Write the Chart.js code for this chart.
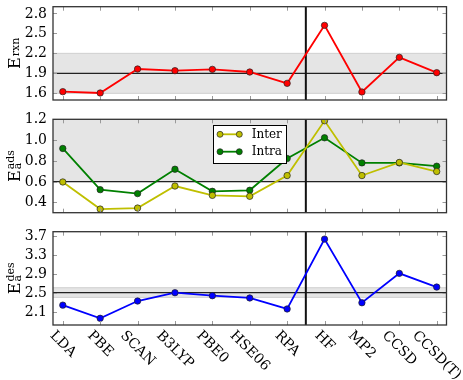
<!DOCTYPE html>
<html><head><meta charset="utf-8">
<script src="https://cdn.jsdelivr.net/npm/chart.js@4/dist/chart.umd.min.js"></script>
<style>
html,body{margin:0;padding:0;background:#fff;}
#wrap{position:relative;width:463px;height:380px;overflow:hidden;background:#fff;}
canvas{position:absolute;left:0;}
</style></head><body>
<div id="wrap">
<canvas id="c1" width="463" height="110" style="top:0px;width:463px;height:110px"></canvas>
<canvas id="c2" width="463" height="112" style="top:110px;width:463px;height:112px"></canvas>
<canvas id="c3" width="463" height="158" style="top:222px;width:463px;height:158px"></canvas>
</div>
<script>
// ---- data ----
const categories = ['LDA','PBE','SCAN','B3LYP','PBE0','HSE06','RPA','HF','MP2','CCSD','CCSD(T)'];
const erxn  = [1.625, 1.605, 1.965, 1.94, 1.96, 1.92, 1.75, 2.62, 1.62, 2.14, 1.91];
const inter = [0.596, 0.335, 0.345, 0.557, 0.467, 0.458, 0.658, 1.186, 0.658, 0.784, 0.697];
const intra = [0.919, 0.522, 0.484, 0.719, 0.506, 0.516, 0.822, 1.022, 0.780, 0.780, 0.748];
const edes  = [2.25, 1.975, 2.336, 2.51, 2.447, 2.40, 2.17, 3.63, 2.30, 2.914, 2.628];
const ticksRxn = [1.6, 1.9, 2.2, 2.5, 2.8];
const ticksAds = [0.4, 0.6, 0.8, 1.0, 1.2];
const ticksDes = [2.1, 2.5, 2.9, 3.3, 3.7];
const bandRxn = [1.6, 2.2], refRxn = 1.9;
const bandAds = [0.6, 1.2], refAds = 0.6;
const bandDes = [2.413, 2.614], refDes = 2.51;
const splitAt = 6.5;

const FONT = '"DejaVu Serif", serif';
const toXY = arr => arr.map((v, i) => ({x: i, y: v}));

function drawYLabel(ctx, cx, cy, main, sup, sub, subShift) {
  ctx.save();
  ctx.translate(cx, cy);
  ctx.rotate(-Math.PI / 2);
  ctx.fillStyle = '#000';
  ctx.textAlign = 'left';
  ctx.textBaseline = 'alphabetic';
  ctx.font = '16px ' + FONT;
  const wE = ctx.measureText(main).width;
  ctx.font = '11px ' + FONT;
  const wS = Math.max(sup ? ctx.measureText(sup).width : 0, sub ? ctx.measureText(sub).width : 0);
  const x0 = -(wE + 1 + wS) / 2;
  ctx.font = '16px ' + FONT;
  ctx.fillText(main, x0, 0);
  ctx.font = '11px ' + FONT;
  if (sup) ctx.fillText(sup, x0 + wE + 1, -6);
  if (sub) ctx.fillText(sub, x0 + wE + 1, subShift);
  ctx.restore();
}

const panelPlugin = {
  id: 'panel',
  beforeDatasetsDraw(chart, args, o) {
    const {ctx, chartArea: ca, scales: {x, y}} = chart;
    ctx.save();
    ctx.beginPath();
    ctx.rect(ca.left, ca.top, ca.right - ca.left, ca.bottom - ca.top);
    ctx.clip();
    const b1 = y.getPixelForValue(o.band[1]), b0 = y.getPixelForValue(o.band[0]);
    ctx.fillStyle = '#e5e5e5';
    ctx.fillRect(ca.left, b1, ca.right - ca.left, b0 - b1);
    ctx.strokeStyle = '#cfcfcf';
    ctx.lineWidth = 1;
    [b0, b1].forEach(v => { ctx.beginPath(); ctx.moveTo(ca.left, v); ctx.lineTo(ca.right, v); ctx.stroke(); });
    const yh = y.getPixelForValue(o.ref);
    ctx.strokeStyle = '#222';
    ctx.lineWidth = 1.3;
    ctx.beginPath(); ctx.moveTo(ca.left, yh); ctx.lineTo(ca.right, yh); ctx.stroke();
    const xv = x.getPixelForValue(o.split);
    ctx.strokeStyle = '#111';
    ctx.lineWidth = 2;
    ctx.beginPath(); ctx.moveTo(xv, ca.top); ctx.lineTo(xv, ca.bottom); ctx.stroke();
    ctx.restore();
  },
  afterDraw(chart, args, o) {
    const {ctx, chartArea: ca, scales: {x, y}} = chart;
    ctx.save();
    // inward ticks
    ctx.strokeStyle = '#999';
    ctx.lineWidth = 1;
    y.ticks.forEach(t => {
      const py = Math.round(y.getPixelForValue(t.value)) + 0.5;
      ctx.beginPath(); ctx.moveTo(ca.left, py); ctx.lineTo(ca.left + 4, py); ctx.stroke();
      ctx.beginPath(); ctx.moveTo(ca.right, py); ctx.lineTo(ca.right - 4, py); ctx.stroke();
    });
    categories.forEach((c, i) => {
      const px = Math.round(x.getPixelForValue(i)) + 0.5;
      ctx.beginPath(); ctx.moveTo(px, ca.bottom); ctx.lineTo(px, ca.bottom - 4); ctx.stroke();
      ctx.beginPath(); ctx.moveTo(px, ca.top); ctx.lineTo(px, ca.top + 4); ctx.stroke();
    });
    // spines
    ctx.strokeStyle = '#333';
    ctx.lineWidth = 1.3;
    ctx.strokeRect(ca.left, ca.top, ca.right - ca.left, ca.bottom - ca.top);
    // y tick labels
    ctx.fillStyle = '#000';
    ctx.font = '14px ' + FONT;
    ctx.textAlign = 'right';
    ctx.textBaseline = 'middle';
    y.ticks.forEach(t => {
      ctx.fillText(Number(t.value).toFixed(1), ca.left - 6, y.getPixelForValue(t.value) + 0.5);
    });
    // y label
    drawYLabel(ctx, 20, (ca.top + ca.bottom) / 2, 'E', o.sup, o.sub, o.subShift);
    // legend
    if (o.legend) {
      const lx = ca.left + 160.3, ly = ca.top + 5.7, lw = 73.4, lh = 38.3;
      ctx.fillStyle = '#fff';
      ctx.fillRect(lx, ly, lw, lh);
      ctx.strokeStyle = '#000';
      ctx.lineWidth = 1;
      ctx.strokeRect(Math.round(lx) + 0.5, Math.round(ly) + 0.5, Math.round(lw), Math.round(lh));
      chart.data.datasets.forEach((ds, k) => {
        const ry = ly + 9.3 + k * 17.4;
        const x0 = lx + 6.7, x1 = lx + 26;
        ctx.strokeStyle = ds.borderColor;
        ctx.lineWidth = 1.8;
        ctx.beginPath(); ctx.moveTo(x0, ry); ctx.lineTo(x1, ry); ctx.stroke();
        [x0, x1].forEach(px => {
          ctx.beginPath(); ctx.arc(px, ry, 3, 0, Math.PI * 2);
          ctx.fillStyle = ds.backgroundColor; ctx.fill();
          ctx.strokeStyle = '#222'; ctx.lineWidth = 0.7; ctx.stroke();
        });
        ctx.fillStyle = '#000';
        ctx.font = '12px ' + FONT;
        ctx.textAlign = 'left';
        ctx.textBaseline = 'middle';
        ctx.fillText(ds.label, lx + 38.4, ry + 0.5);
      });
    }
    // rotated x labels
    if (o.xlabels) {
      ctx.font = '14px ' + FONT;
      ctx.fillStyle = '#000';
      ctx.textAlign = 'center';
      ctx.textBaseline = 'middle';
      categories.forEach((c, i) => {
        const w = ctx.measureText(c).width;
        const h = 11;
        const half = (w + h) / (2 * Math.SQRT2);
        const cx = x.getPixelForValue(i);
        const cy = ca.bottom + 4.5 + half;
        ctx.save();
        ctx.translate(cx, cy);
        ctx.rotate(Math.PI / 4);
        ctx.fillText(c, 0, 0);
        ctx.restore();
      });
    }
    ctx.restore();
  }
};

function makeChart(id, datasets, ymin, ymax, yticks, pad, popts) {
  return new Chart(document.getElementById(id), {
    type: 'line',
    data: { datasets },
    options: {
      responsive: false,
      animation: false,
      devicePixelRatio: 1,
      layout: { padding: { left: 53, right: 16.5, top: pad[0], bottom: pad[1] } },
      plugins: { legend: { display: false }, tooltip: { enabled: false }, panel: popts },
      scales: {
        x: { type: 'linear', display: false, min: -0.262, max: 10.262 },
        y: {
          type: 'linear', display: false, min: ymin, max: ymax,
          afterBuildTicks: s => { s.ticks = yticks.map(v => ({ value: v })); }
        }
      }
    },
    plugins: [panelPlugin]
  });
}

const common = { borderWidth: 1.8, pointRadius: 3.2, pointBorderWidth: 0.7, pointBorderColor: '#222', tension: 0 };

makeChart('c1', [
  Object.assign({ label: 'Erxn', data: toXY(erxn), borderColor: '#ff0000', backgroundColor: '#ff0000' }, common)
], 1.5, 2.9, ticksRxn, [6.7, 10],
  { band: bandRxn, ref: refRxn, split: splitAt, sub: 'rxn', subShift: -1 });

makeChart('c2', [
  Object.assign({ label: 'Inter', data: toXY(inter), borderColor: '#bfbf00', backgroundColor: '#bfbf00' }, common),
  Object.assign({ label: 'Intra', data: toXY(intra), borderColor: '#008000', backgroundColor: '#008000' }, common)
], 0.3, 1.2, ticksAds, [9.3, 9.3],
  { band: bandAds, ref: refAds, split: splitAt, sup: 'ads', sub: 'a', subShift: 1, legend: true });

makeChart('c3', [
  Object.assign({ label: 'Edes', data: toXY(edes), borderColor: '#0000ff', backgroundColor: '#0000ff' }, common)
], 1.835, 3.785, ticksDes, [9.7, 55],
  { band: bandDes, ref: refDes, split: splitAt, sup: 'des', sub: 'a', subShift: 1, xlabels: true });
</script>
</body></html>
